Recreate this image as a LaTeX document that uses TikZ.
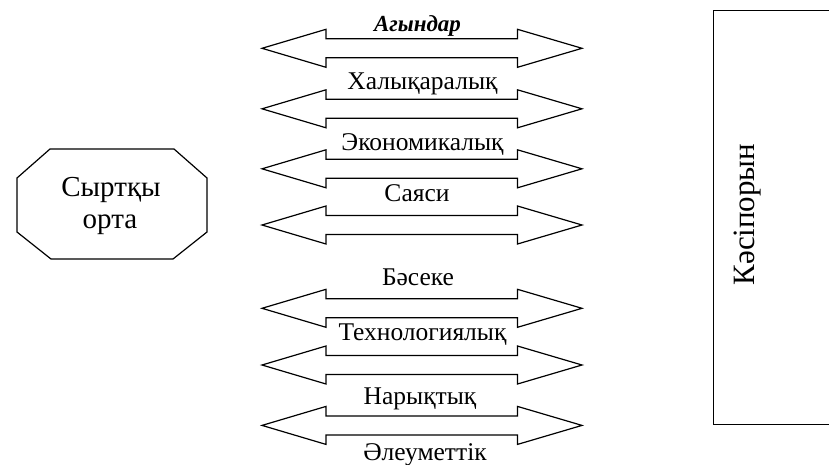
\documentclass[tikz,border=0pt]{standalone}
\usepackage{fontspec}
\setmainfont{Liberation Serif}
\begin{document}
\begin{tikzpicture}[x=1pt,y=-1pt,
  outline/.style={draw=black,line width=1.2pt,line join=miter},
  flowlabel/.style={font=\fontsize{25.5}{30}\selectfont,anchor=base,inner sep=0pt},
  sidelabel/.style={font=\fontsize{29}{32}\selectfont,anchor=base,inner sep=0pt},
  flowarrow/.pic={
    \draw[outline] (-160,0) -- (-96,-19) -- (-96,-9.5) -- (95.5,-9.5) -- (95.5,-19)
      -- (160,0) -- (95.5,19) -- (95.5,9.5) -- (-96,9.5) -- (-96,19) -- cycle;
  }
]
\useasboundingbox (0,0) rectangle (829,464);

% external environment (octagon)
\draw[outline] (50,149) -- (174,149) -- (207,178) -- (207,232) -- (173,259)
  -- (51,259) -- (17,232) -- (17,178) -- cycle;
\node[sidelabel] (outerTop) at (111,196.7) {Сыртқы};
\node[sidelabel] (outerBottom) at (110,228.3) {орта};

% enterprise box, running past the right edge
\draw[outline] (840,10.7) -- (713.3,10.7) -- (713.3,424.3) -- (840,424.3);
\node[sidelabel,font=\fontsize{31}{34}\selectfont,rotate=90] (firm) at (754,214.5) {Кәсіпорын};

% two-way flows
\pic (flowA) at (422,48.3) {flowarrow};
\pic (flowB) at (422,108.8) {flowarrow};
\pic (flowC) at (422,168.8) {flowarrow};
\pic (flowD) at (422,225) {flowarrow};
\pic (flowE) at (422,308.3) {flowarrow};
\pic (flowF) at (422,365) {flowarrow};
\pic (flowG) at (422,425.4) {flowarrow};

% labels
\node[flowlabel,font=\bfseries\itshape\fontsize{23}{27}\selectfont] (title) at (417.5,31) {Агындар};
\node[flowlabel] (intl) at (422.5,89.3) {Халықаралық};
\node[flowlabel] (econ) at (422.5,150) {Экономикалық};
\node[flowlabel] (polit) at (417,201.7) {Саяси};
\node[flowlabel] (compet) at (418,285) {Бәсеке};
\node[flowlabel] (tech) at (422.5,340) {Технологиялық};
\node[flowlabel] (market) at (420,404) {Нарықтық};
\node[flowlabel] (social) at (425,460) {Әлеуметтік};
\end{tikzpicture}
\end{document}
